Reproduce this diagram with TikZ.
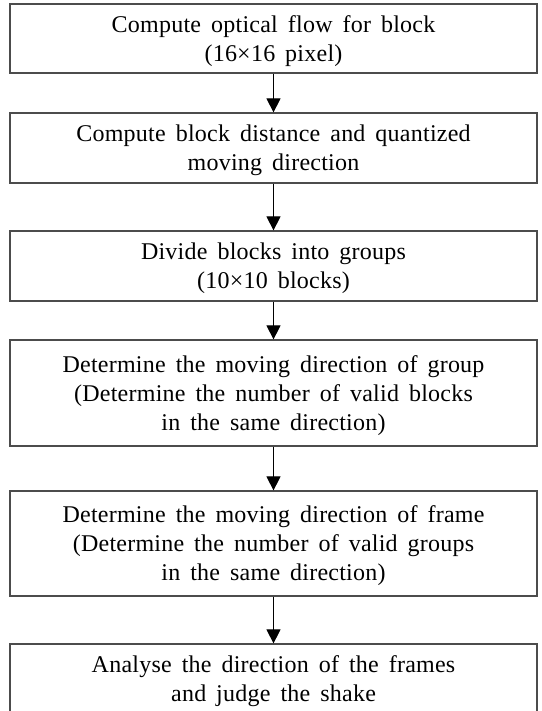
\documentclass[tikz,border=0pt]{standalone}
\usepackage{fontspec}
\setmainfont{Liberation Serif}[WordSpace=1.6, LetterSpace=1]
\usetikzlibrary{arrows.meta}
\begin{document}
\begin{tikzpicture}[x=1pt, y=-1pt,
  stepbox/.style={draw=black!70, line width=1.2pt, minimum width=527pt,
    align=center, inner sep=0pt, text depth=0pt,
    font=\fontsize{24}{29}\selectfont},
  flow/.style={-{Triangle[width=14pt,length=14pt]}, line width=0.9pt}]
  \useasboundingbox (0,0) rectangle (541,711);
  \clip (0,0) rectangle (541,711);
  % processing steps, top to bottom
  \node[stepbox, minimum height=69pt] (b1) at (273.5,38.5)
    {Compute optical flow for block\\(16×16 pixel)};
  \node[stepbox, minimum height=70pt] (b2) at (273.5,148)
    {Compute block distance and quantized\\moving direction};
  \node[stepbox, minimum height=70pt] (b3) at (273.5,266)
    {Divide blocks into groups\\(10×10 blocks)};
  \node[stepbox, minimum height=106pt] (b4) at (273.5,393)
    {Determine the moving direction of group\\(Determine the number of valid blocks\\in the same direction)};
  \node[stepbox, minimum height=105pt] (b5) at (273.5,543.5)
    {Determine the moving direction of frame\\(Determine the number of valid groups\\in the same direction)};
  \node[stepbox, minimum height=70pt] (b6) at (273.5,679)
    {Analyse the direction of the frames\\and judge the shake};
  % connectors
  \draw[flow] (b1) -- (b2);
  \draw[flow] (b2) -- (b3);
  \draw[flow] (b3) -- (b4);
  \draw[flow] (b4) -- (b5);
  \draw[flow] (b5) -- (b6);
\end{tikzpicture}
\end{document}
